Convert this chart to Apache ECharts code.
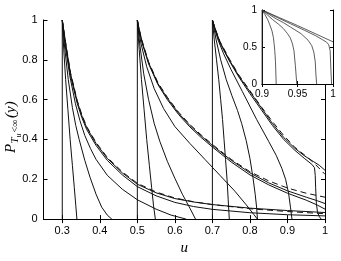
<!DOCTYPE html>
<html>
<head>
<meta charset="utf-8">
<script src="https://cdn.jsdelivr.net/npm/echarts@6/dist/echarts.min.js"></script>
<style>html,body{margin:0;padding:0;background:#fff}#c{width:341px;height:261px}</style>
</head>
<body>
<div id="c"></div>
<script>
// ---- tick labels ----
const xTicks = [0.3, 0.4, 0.5, 0.6, 0.7, 0.8, 0.9, 1];

// ---- family starting at u = 0.3 ----
const f30_v  = [[0.3,1],[0.3,0]];
const f30_c1 = [[0.3,1],[0.302,0.92],[0.304,0.85],[0.309,0.7],[0.315,0.55],[0.321,0.4],[0.327,0.27],[0.332,0.16],[0.336,0.07],[0.339,0]];
const f30_c2 = [[0.3,1],[0.303,0.93],[0.307,0.85],[0.316,0.7],[0.327,0.56],[0.336,0.47],[0.345,0.4],[0.36,0.295],[0.374,0.21],[0.39,0.125],[0.405,0.06],[0.42,0.02],[0.432,0]];
const f30_c3 = [[0.3,1],[0.304,0.93],[0.308,0.87],[0.32,0.72],[0.335,0.58],[0.347,0.495],[0.36,0.42],[0.375,0.355],[0.39,0.3],[0.42,0.22],[0.46,0.15],[0.5,0.097],[0.55,0.05],[0.59,0.02],[0.63,0]];
const f30_c4 = [[0.3,1],[0.305,0.93],[0.31,0.86],[0.322,0.72],[0.34,0.58],[0.352,0.51],[0.365,0.45],[0.39,0.37],[0.42,0.295],[0.46,0.222],[0.5,0.163],[0.55,0.117],[0.6,0.084],[0.65,0.063],[0.7,0.049],[0.8,0.032],[0.9,0.022],[1,0.016]];
const f30_c5 = [[0.3,1],[0.305,0.935],[0.31,0.87],[0.322,0.73],[0.34,0.59],[0.352,0.52],[0.365,0.46],[0.39,0.38],[0.42,0.305],[0.46,0.232],[0.5,0.175],[0.55,0.132],[0.6,0.103],[0.65,0.086],[0.7,0.073],[0.8,0.055],[0.9,0.043],[1,0.033]];
const f30_d  = [[0.3,1],[0.305,0.937],[0.31,0.875],[0.322,0.735],[0.34,0.595],[0.352,0.525],[0.365,0.465],[0.39,0.385],[0.42,0.31],[0.46,0.237],[0.5,0.18],[0.55,0.136],[0.6,0.106],[0.65,0.087],[0.7,0.073],[0.8,0.052],[0.9,0.038],[1,0.027]];

// ---- family starting at u = 0.5 ----
const f50_v  = [[0.5,1],[0.5,0]];
const f50_c1 = [[0.5,1],[0.502,0.93],[0.505,0.85],[0.511,0.7],[0.518,0.55],[0.525,0.4],[0.532,0.27],[0.538,0.16],[0.543,0.07],[0.548,0]];
const f50_c2 = [[0.5,1],[0.503,0.94],[0.507,0.87],[0.517,0.73],[0.53,0.6],[0.545,0.48],[0.56,0.39],[0.58,0.29],[0.6,0.205],[0.62,0.125],[0.64,0.055],[0.655,0]];
const f50_c3 = [[0.5,1],[0.504,0.945],[0.51,0.88],[0.525,0.765],[0.545,0.655],[0.57,0.555],[0.6,0.465],[0.64,0.38],[0.68,0.3],[0.72,0.22],[0.76,0.14],[0.79,0.072],[0.81,0.024],[0.82,0]];
const f50_c4 = [[0.5,1],[0.505,0.95],[0.512,0.89],[0.53,0.78],[0.555,0.675],[0.58,0.6],[0.61,0.525],[0.64,0.463],[0.67,0.41],[0.7,0.362],[0.75,0.287],[0.8,0.222],[0.85,0.172],[0.9,0.13],[0.95,0.095],[0.98,0.07],[1,0.05]];
const f50_c5 = [[0.5,1],[0.505,0.952],[0.512,0.895],[0.53,0.785],[0.555,0.68],[0.58,0.607],[0.61,0.532],[0.64,0.47],[0.67,0.418],[0.7,0.37],[0.75,0.296],[0.8,0.232],[0.85,0.182],[0.9,0.142],[0.95,0.11],[0.98,0.092],[1,0.078]];
const f50_d  = [[0.5,1],[0.505,0.954],[0.512,0.9],[0.53,0.79],[0.555,0.685],[0.58,0.612],[0.61,0.537],[0.64,0.475],[0.67,0.423],[0.7,0.375],[0.75,0.3],[0.8,0.238],[0.85,0.192],[0.9,0.156],[0.95,0.13],[1,0.11]];

// ---- family starting at u = 0.7 ----
const f70_v  = [[0.7,1],[0.7,0]];
const f70_c1 = [[0.7,1],[0.705,0.9],[0.711,0.8],[0.717,0.7],[0.722,0.6],[0.727,0.5],[0.731,0.4],[0.735,0.3],[0.739,0.2],[0.742,0.1],[0.745,0]];
const f70_c2 = [[0.7,1],[0.71,0.9],[0.722,0.8],[0.737,0.7],[0.752,0.62],[0.767,0.545],[0.778,0.48],[0.79,0.395],[0.8,0.305],[0.808,0.21],[0.814,0.125],[0.818,0.055],[0.82,0]];
const f70_c3 = [[0.7,1],[0.707,0.95],[0.715,0.9],[0.73,0.83],[0.75,0.75],[0.78,0.64],[0.818,0.5],[0.85,0.39],[0.87,0.32],[0.885,0.255],[0.895,0.2],[0.903,0.13],[0.908,0.06],[0.912,0]];
const f70_c4 = [[0.7,1],[0.708,0.95],[0.72,0.885],[0.745,0.795],[0.77,0.715],[0.8,0.63],[0.83,0.55],[0.86,0.47],[0.89,0.4],[0.92,0.345],[0.945,0.305],[0.965,0.275],[0.972,0.258],[0.974,0.22],[0.975,0.16],[0.977,0.08],[0.98,0.035],[0.985,0.012],[0.99,0]];
const f70_c5 = [[0.7,1],[0.708,0.952],[0.72,0.89],[0.745,0.8],[0.77,0.72],[0.8,0.64],[0.83,0.56],[0.86,0.48],[0.89,0.41],[0.92,0.355],[0.945,0.318],[0.97,0.288],[0.985,0.27],[1,0.245]];
const f70_d  = [[0.7,1],[0.708,0.954],[0.72,0.893],[0.745,0.805],[0.77,0.725],[0.8,0.645],[0.83,0.565],[0.86,0.49],[0.89,0.42],[0.92,0.36],[0.95,0.315],[0.97,0.283],[1,0.225]];

// ---- inset: family starting at u = 0.9 ----
const f90_v  = [[0.9,1],[0.9,0]];
const f90_c1 = [[0.9,1],[0.904,0.94],[0.908,0.87],[0.911,0.8],[0.914,0.72],[0.916,0.63],[0.917,0.55],[0.918,0.45],[0.919,0.3],[0.92,0]];
const f90_c2 = [[0.9,1],[0.908,0.93],[0.915,0.87],[0.923,0.81],[0.93,0.75],[0.936,0.68],[0.94,0.62],[0.943,0.54],[0.945,0.45],[0.947,0.25],[0.949,0]];
const f90_c3 = [[0.9,1],[0.91,0.94],[0.92,0.88],[0.93,0.83],[0.94,0.77],[0.955,0.68],[0.965,0.59],[0.97,0.52],[0.973,0.43],[0.975,0.3],[0.976,0.12],[0.977,0]];
const f90_c4 = [[0.9,1],[0.92,0.905],[0.94,0.815],[0.96,0.725],[0.975,0.655],[0.985,0.6],[0.991,0.565],[0.994,0.53],[0.996,0.45],[0.997,0.2],[0.998,0]];
const f90_c5 = [[0.9,1],[0.925,0.895],[0.95,0.79],[0.975,0.68],[1,0.57]];

const solidMain = [f30_v,f30_c1,f30_c2,f30_c3,f30_c4,f30_c5,
                   f50_v,f50_c1,f50_c2,f50_c3,f50_c4,f50_c5,
                   f70_v,f70_c1,f70_c2,f70_c3,f70_c4,f70_c5];
const dashedMain = [f30_d, f50_d, f70_d];
const insetCurves = [f90_v,f90_c1,f90_c2,f90_c3,f90_c4,f90_c5];

const fmt = v => String(+(+v).toFixed(2));
const lblFont = {color:'#000', fontSize:11, fontFamily:'Liberation Sans, Arial, sans-serif'};
const insFont = {color:'#000', fontSize:10, fontFamily:'Liberation Sans, Arial, sans-serif'};

function mkSeries(data, xi, yi, dashed, z, w, col){
  return {
    type:'line', data:data, xAxisIndex:xi, yAxisIndex:yi,
    showSymbol:false, symbol:'none', silent:true, z:z, smooth:false,
    lineStyle:{color:col, width:w, type: dashed ? [6,4] : 'solid'},
    clip:true
  };
}

const series = [];
solidMain.forEach(d => series.push(mkSeries(d,0,0,false,2,1,'#111')));
dashedMain.forEach(d => series.push(mkSeries(d,0,0,true,2,1,'#111')));
insetCurves.forEach(d => series.push(mkSeries(d,2,2,false,60,0.8,'#333')));

const axLine = {show:true, lineStyle:{color:'#000', width:1}};
const serif = 'Liberation Serif, Times New Roman, serif';
const option = {
  animation:false,
  backgroundColor:'#fff',
  grid:[
    {left:43.5, right:16, top:20, bottom:31.7, show:false},
    {left:262, top:10, width:71, height:74, show:true, backgroundColor:'#fff', borderWidth:0, z:50}
  ],
  xAxis:[
    {gridIndex:0, type:'value', min:0.25, max:1, position:'bottom',
     axisLine:axLine, splitLine:{show:false},
     axisTick:{inside:true, length:4, customValues:xTicks, lineStyle:{color:'#000'}},
     axisLabel:Object.assign({customValues:xTicks, margin:6, formatter:fmt}, lblFont),
     name:'u', nameLocation:'middle', nameGap:19,
     nameTextStyle:{fontFamily:serif, fontStyle:'italic', fontSize:15, color:'#000'}},
    {gridIndex:0, type:'value', min:0.25, max:1, position:'top',
     axisLine:axLine, splitLine:{show:false},
     axisTick:{inside:true, length:4, customValues:xTicks, lineStyle:{color:'#000'}},
     axisLabel:{show:false}},
    {gridIndex:1, type:'value', min:0.9, max:1, interval:0.05, position:'bottom', z:55,
     axisLine:axLine, splitLine:{show:false},
     axisTick:{inside:true, length:3, lineStyle:{color:'#000'}},
     axisLabel:Object.assign({margin:5, formatter:fmt, showMinLabel:true, showMaxLabel:true}, insFont)},
    {gridIndex:1, type:'value', min:0.9, max:1, interval:0.05, position:'top', z:55,
     axisLine:axLine, splitLine:{show:false},
     axisTick:{inside:true, length:3, lineStyle:{color:'#000'}},
     axisLabel:{show:false}}
  ],
  yAxis:[
    {gridIndex:0, type:'value', min:0, max:1, interval:0.2, position:'left',
     axisLine:axLine, splitLine:{show:false},
     axisTick:{inside:true, length:4, lineStyle:{color:'#000'}},
     axisLabel:Object.assign({margin:6, formatter:fmt}, lblFont)},
    {gridIndex:0, type:'value', min:0, max:1, interval:0.2, position:'right',
     axisLine:axLine, splitLine:{show:false},
     axisTick:{inside:true, length:4, lineStyle:{color:'#000'}},
     axisLabel:{show:false}},
    {gridIndex:1, type:'value', min:0, max:1, interval:0.5, position:'left', z:55,
     axisLine:axLine, splitLine:{show:false},
     axisTick:{inside:true, length:3, lineStyle:{color:'#000'}},
     axisLabel:Object.assign({margin:5, formatter:fmt}, insFont)},
    {gridIndex:1, type:'value', min:0, max:1, interval:0.5, position:'right', z:55,
     axisLine:axLine, splitLine:{show:false},
     axisTick:{inside:true, length:3, lineStyle:{color:'#000'}},
     axisLabel:{show:false}}
  ],
  graphic:[{
    type:'group', x:11, y:125, rotation:Math.PI/2, silent:true,
    children:[
      {type:'text', x:-28, y:0, style:{text:'P', fontSize:15, fontStyle:'italic', fontFamily:serif, fill:'#000', verticalAlign:'middle', align:'left'}},
      {type:'text', x:-18.5, y:4.5, style:{text:'T', fontSize:11, fontStyle:'italic', fontFamily:serif, fill:'#000', verticalAlign:'middle', align:'left'}},
      {type:'text', x:-12.5, y:8, style:{text:'u', fontSize:8, fontStyle:'italic', fontFamily:serif, fill:'#000', verticalAlign:'middle', align:'left'}},
      {type:'text', x:-7.5, y:4.5, style:{text:'<∞', fontSize:10, fontFamily:'Liberation Serif, DejaVu Serif, serif', fill:'#000', verticalAlign:'middle', align:'left'}},
      {type:'text', x:7, y:0, style:{text:'(y)', fontSize:15, fontStyle:'italic', fontFamily:serif, fill:'#000', verticalAlign:'middle', align:'left'}}
    ]
  }],
  series:series
};
const chart = echarts.init(document.getElementById('c'), null, {renderer:'canvas'});
chart.setOption(option);
</script>
</body>
</html>
